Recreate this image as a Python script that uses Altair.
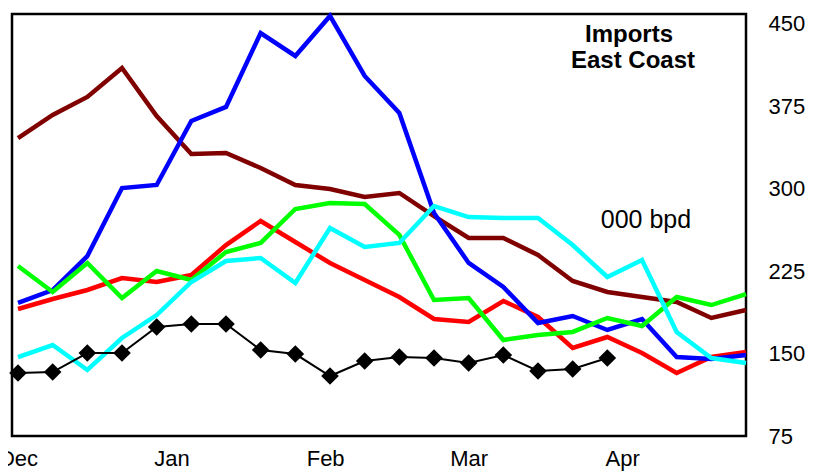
import altair as alt
import pandas as pd

# ---- data ----
weeks = list(range(22))

maroon = [346.2, 367.2, 383.6, 410.0, 366.3, 331.7, 332.6, 318.9, 303.5, 299.8, 292.5,
          296.2, 275.2, 255.2, 255.2, 239.7, 216.1, 206.1, 201.5, 197.0, 182.4, 189.7]
blue = [196.1, 207.9, 238.8, 300.7, 303.5, 361.7, 374.5, 441.8, 420.9, 457.3, 402.7,
        369.0, 278.0, 232.5, 210.6, 177.9, 184.2, 171.5, 181.5, 146.9, 145.1, 148.7]
red = [190.6, 199.7, 207.9, 218.8, 215.2, 221.5, 248.8, 270.7, 251.6, 232.5, 217.0,
       201.5, 181.5, 178.8, 197.9, 183.3, 155.1, 165.1, 150.5, 132.3, 146.9, 151.5]
green = [229.7, 206.1, 232.5, 200.6, 225.2, 217.0, 242.5, 250.7, 281.6, 287.1, 286.2,
         258.0, 198.8, 200.6, 162.4, 166.9, 169.7, 182.4, 175.1, 201.5, 194.2, 204.2]
cyan = [146.9, 157.8, 135.1, 164.2, 185.1, 215.2, 234.3, 237.0, 214.3, 264.3, 247.0,
        250.7, 284.3, 274.3, 273.4, 273.4, 248.8, 219.7, 235.2, 169.7, 146.0, 141.4]
black = [132.3, 133.2, 150.5, 150.5, 174.2, 176.9, 176.9, 153.3, 149.6, 129.6, 143.3,
         146.9, 146.0, 141.4, 148.7, 134.2, 136.0, 146.0]

month_pos = [0, 4.43, 8.86, 13.0, 17.43]
month_labels = ["Dec", "Jan", "Feb", "Mar", "Apr"]
y_ticks = [75, 150, 225, 300, 375, 450]

title_lines = ["Imports", "East Coast"]
unit_text = ["000 bpd"]

series = [
    ("maroon", maroon, "#800000"),
    ("red", red, "#FF0000"),
    ("blue", blue, "#0000FF"),
    ("green", green, "#00FF00"),
    ("cyan", cyan, "#00FFFF"),
]

FONT = "Liberation Sans"

labels_js = "[" + ",".join(f"'{m}'" for m in month_labels) + "]"
pos_js = "[" + ",".join(str(p) for p in month_pos) + "]"

x_enc = alt.X(
    "week:Q",
    scale=alt.Scale(domain=[-0.173, 21], nice=False, zero=False),
    axis=alt.Axis(
        values=month_pos,
        labelExpr=f"{labels_js}[indexof({pos_js}, datum.value)]",
        title=None, grid=False, ticks=False, tickSize=0, domain=False,
        labelFlush=False, labelOverlap=False, labelPadding=12,
        labelFont=FONT, labelFontSize=22, labelColor="black",
    ),
)
y_enc = alt.Y(
    "value:Q",
    scale=alt.Scale(domain=[75, 459.1], nice=False, zero=False),
    axis=alt.Axis(
        orient="right", values=y_ticks, title=None, grid=False, ticks=False,
        tickSize=0, domain=False, labelPadding=22, labelAlign="left",
        labelFont=FONT, labelFontSize=22, labelColor="black",
    ),
)

layers = []
for name, vals, col in series:
    df = pd.DataFrame({"week": weeks[: len(vals)], "value": vals})
    layers.append(
        alt.Chart(df).mark_line(color=col, strokeWidth=4.5, strokeJoin="miter").encode(x=x_enc, y=y_enc)
    )

bdf = pd.DataFrame({"week": weeks[: len(black)], "value": black})
layers.append(alt.Chart(bdf).mark_line(color="black", strokeWidth=2).encode(x=x_enc, y=y_enc))
layers.append(
    alt.Chart(bdf).mark_point(shape="diamond", filled=True, color="black", size=310, opacity=1).encode(x=x_enc, y=y_enc)
)

t1 = alt.Chart(pd.DataFrame({"t": [title_lines[0]]})).mark_text(
    font=FONT, fontSize=24, fontWeight="bold", align="center", baseline="alphabetic", color="black"
).encode(text="t:N", x=alt.value(617), y=alt.value(28))
t2 = alt.Chart(pd.DataFrame({"t": [title_lines[1]]})).mark_text(
    font=FONT, fontSize=24, fontWeight="bold", align="center", baseline="alphabetic", color="black"
).encode(text="t:N", x=alt.value(621), y=alt.value(54))
t3 = alt.Chart(pd.DataFrame({"t": unit_text})).mark_text(
    font=FONT, fontSize=25, align="center", baseline="alphabetic", color="black"
).encode(text="t:N", x=alt.value(634), y=alt.value(214))

chart = (
    alt.layer(*layers, t1, t2, t3)
    .properties(
        width=734,
        height=422,
        autosize=alt.AutoSizeParams(type="none"),
        padding={"left": 4, "top": 6, "right": 64, "bottom": 38},
        background="white",
    )
    .configure_view(stroke="black", strokeWidth=2.5)
)

chart.save("out.html", embed_options={"renderer": "svg", "actions": False})
